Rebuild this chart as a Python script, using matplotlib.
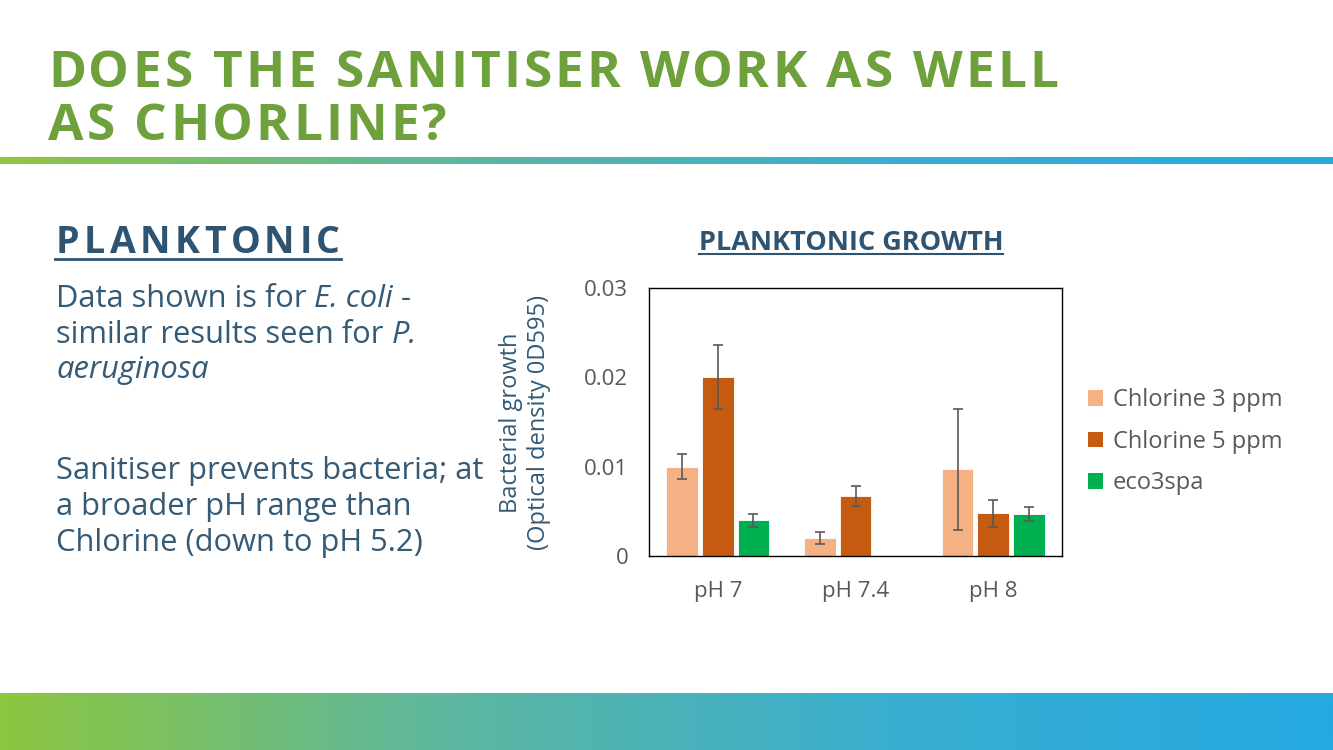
import numpy as np
import matplotlib
matplotlib.use("Agg")
import matplotlib.pyplot as plt
from matplotlib.colors import LinearSegmentedColormap
from matplotlib.patches import Patch

# ---------------- data ----------------
categories = ["pH 7", "pH 7.4", "pH 8"]
series_names = ["Chlorine 3 ppm", "Chlorine 5 ppm", "eco3spa"]
chlorine3 = [0.0100, 0.0020, 0.0097]
chlorine5 = [0.0200, 0.0067, 0.0048]
eco3spa = [0.0040, np.nan, 0.0047]
chlorine3_err = [0.0014, 0.0007, 0.0068]
chlorine5_err = [0.0036, 0.0011, 0.0015]
eco3spa_err = [0.0007, np.nan, 0.0008]
y_ticks = [0, 0.01, 0.02, 0.03]
y_tick_labels = ["0", "0.01", "0.02", "0.03"]

title_lines = ["DOES THE SANITISER WORK AS WELL", "AS CHORLINE?"]
section_heading = "PLANKTONIC"
chart_title = "PLANKTONIC GROWTH"
y_label = "Bacterial growth\n(Optical density 0D595)"

series_colors = ["#F4B183", "#C55A11", "#00B050"]
GREEN = "#6EA03C"
DARK_BLUE = "#2F5472"
TEXT_BLUE = "#345A76"
GREY = "#595959"

W, H = 1333, 750
fig = plt.figure(figsize=(W / 100, H / 100), dpi=100)
fig.patch.set_facecolor("white")
renderer = fig.canvas.get_renderer()


def fx(x):
    return x / W


def fy(y):
    return 1 - y / H


def text_width(s, **kw):
    t = fig.text(0, 0, s + "X", **kw)
    w1 = t.get_window_extent(renderer).width
    t.remove()
    t = fig.text(0, 0, "X", **kw)
    w2 = t.get_window_extent(renderer).width
    t.remove()
    return w1 - w2


def spaced_text(x, y, s, tracking=None, target_right=None, **kw):
    n = len(s)
    if tracking is None:
        nat = text_width(s, **kw)
        tracking = (target_right - x - nat) / (n - 1)
    for i, ch in enumerate(s):
        if ch == " ":
            continue
        off = text_width(s[:i], **kw) if i > 0 else 0
        fig.text(fx(x + off + i * tracking), fy(y), ch, va="baseline", ha="left", **kw)
    return tracking


def runs_text(x, y, runs, **kw):
    cx = x
    for s, style in runs:
        fig.text(fx(cx), fy(y), s, va="baseline", ha="left", style=style, **kw)
        cx += text_width(s, style=style, **kw)


# ---------------- gradient bands ----------------
grad = LinearSegmentedColormap.from_list("g", ["#8DC63F", "#5DB7A0", "#3AAED0", "#25A9E1"])
gx = np.linspace(0, 1, 512).reshape(1, -1)
band_top = fig.add_axes([0, fy(164), 1, (164 - 157) / H])
band_top.imshow(gx, aspect="auto", cmap=grad, extent=[0, 1, 0, 1])
band_top.axis("off")
band_bot = fig.add_axes([0, 0, 1, (750 - 693) / H])
band_bot.imshow(gx, aspect="auto", cmap=grad, extent=[0, 1, 0, 1])
band_bot.axis("off")

# ---------------- headings & body text ----------------
title_kw = dict(family="Open Sans", weight="bold", fontsize=37, color=GREEN)
trk = spaced_text(48, 87, title_lines[0], target_right=1058, **title_kw)
spaced_text(48, 140, title_lines[1], tracking=trk, **title_kw)

head_kw = dict(family="Open Sans", weight="bold", fontsize=27, color=DARK_BLUE)
spaced_text(56, 253, section_heading, target_right=340, **head_kw)
fig.add_artist(plt.Line2D([fx(55), fx(341)], [fy(259), fy(259)], color=DARK_BLUE, lw=2))

body_kw = dict(family="Open Sans", fontsize=22.2, color=TEXT_BLUE)
runs_text(56, 307, [("Data shown is for ", "normal"), ("E. coli", "italic"), (" -", "normal")], **body_kw)
runs_text(56, 343, [("similar results seen for ", "normal"), ("P.", "italic")], **body_kw)
runs_text(56, 378, [("aeruginosa", "italic")], **body_kw)
runs_text(56, 479, [("Sanitiser prevents bacteria; at", "normal")], **body_kw)
runs_text(56, 515, [("a broader pH range than", "normal")], **body_kw)
runs_text(56, 551, [("Chlorine (down to pH 5.2)", "normal")], **body_kw)

# chart title
ct_kw = dict(family="Open Sans", weight="bold", fontsize=19.5, color=DARK_BLUE)
fig.text(fx(851), fy(250), chart_title, ha="center", va="baseline", **ct_kw)
ctw = text_width(chart_title, **ct_kw)
fig.add_artist(plt.Line2D([fx(851 - ctw / 2), fx(851 + ctw / 2)], [fy(254), fy(254)],
                          color=DARK_BLUE, lw=1.5))

# ---------------- chart ----------------
ax = fig.add_axes([fx(649), fy(556), (1062 - 649) / W, (556 - 288) / H])
x = np.arange(len(categories))
bw = 0.228
step = 0.259
vals = [chlorine3, chlorine5, eco3spa]
errs = [chlorine3_err, chlorine5_err, eco3spa_err]
for i, (v, e, c, name) in enumerate(zip(vals, errs, series_colors, series_names)):
    pos = x + (i - 1) * step
    ax.bar(pos, v, width=bw, color=c, edgecolor="white", linewidth=0.6, label=name, zorder=2)
    ax.errorbar(pos, v, yerr=e, fmt="none", ecolor=GREY, elinewidth=1.2, capsize=3.5,
                capthick=1.2, zorder=3)

ax.set_xlim(-0.5, len(categories) - 0.5)
ax.set_ylim(0, 0.03)
ax.set_yticks(y_ticks)
ax.set_yticklabels(y_tick_labels)
ax.set_xticks(x)
ax.set_xticklabels(categories)
ax.tick_params(axis="both", length=0, labelsize=16, labelcolor=GREY)
ax.tick_params(axis="y", pad=15)
ax.tick_params(axis="x", pad=18)
for lab in ax.get_xticklabels() + ax.get_yticklabels():
    lab.set_family("Open Sans")
for sp in ax.spines.values():
    sp.set_color("black")
    sp.set_linewidth(1)

fig.text(fx(525), fy(423), y_label, rotation=90, ha="center", va="center",
         family="Open Sans", fontsize=17, color=TEXT_BLUE, linespacing=1.2,
         multialignment="center")

handles = [Patch(facecolor=c, edgecolor="none") for c in series_colors]
leg = fig.legend(handles, series_names, loc="upper left",
                 bbox_to_anchor=(fx(1088), fy(388)), frameon=False,
                 prop={"family": "Open Sans", "size": 17},
                 handlelength=0.64, handleheight=0.64, handletextpad=0.4,
                 labelspacing=0.75, borderpad=0, borderaxespad=0)
for t in leg.get_texts():
    t.set_color(GREY)

fig.savefig("out.png", dpi=100, facecolor="white")
